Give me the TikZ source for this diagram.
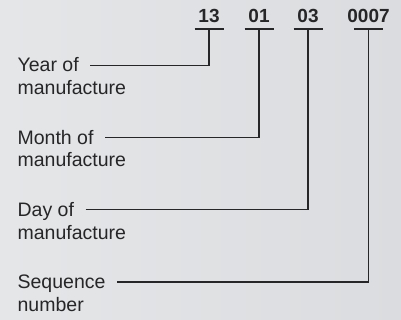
\documentclass[tikz,border=0pt]{standalone}
\usepackage{fontspec}
\setmainfont{Liberation Sans}
\definecolor{ink}{RGB}{38,38,40}
\definecolor{paperleft}{RGB}{229,230,232}
\definecolor{paperright}{RGB}{219,220,223}
\tikzstyle{every path}=[line width=1.3pt]
\tikzstyle{digits} = [anchor=south, inner xsep=0pt, inner ysep=5.7pt, text depth=0pt, text=ink, font=\fontsize{19}{19}\selectfont\bfseries]
\tikzstyle{field} = [anchor=base west, inner sep=0pt, text height=13.4pt, text depth=0pt, text=ink, font=\fontsize{19.5}{22.7}\selectfont]
\tikzstyle{leader} = [draw=ink, shorten <=11pt]

\begin{document}
\begin{tikzpicture}[x=1pt, y=1pt]
  \shade[left color=paperleft, right color=paperright] (0,0) rectangle (401,320);
  \useasboundingbox (0,0) rectangle (401,320);
  % the code as printed
  \node[digits] (year) at (209,291) {13};
  \node[digits] (month) at (259,291) {01};
  \node[digits] (day) at (308,291) {03};
  \node[digits] (seq) at (368.5,291) {0007};
  \draw[ink] ([xshift=-14.5pt]year.south) -- ([xshift=14.5pt]year.south);
  \draw[ink] ([xshift=-14.5pt]month.south) -- ([xshift=14.5pt]month.south);
  \draw[ink] ([xshift=-14.5pt]day.south) -- ([xshift=14.5pt]day.south);
  \draw[ink] ([xshift=-14.5pt]seq.south) -- ([xshift=14.5pt]seq.south);
  % what each group means
  \node[field] (yearA) at (17,248) {Year of};
  \node[field] (yearB) at (17,225.3) {manufacture};
  \node[field] (monthA) at (17,175.8) {Month of};
  \node[field] (monthB) at (17,153.1) {manufacture};
  \node[field] (dayA) at (17,103.6) {Day of};
  \node[field] (dayB) at (17,80.9) {manufacture};
  \node[field] (seqA) at (17,31.4) {Sequence};
  \node[field] (seqB) at (17,8.7) {number};
  \draw[leader] (yearA.east) -- (yearA.east -| year.south) -- (year.south);
  \draw[leader] (monthA.east) -- (monthA.east -| month.south) -- (month.south);
  \draw[leader] (dayA.east) -- (dayA.east -| day.south) -- (day.south);
  \draw[leader] (seqA.east) -- (seqA.east -| seq.south) -- (seq.south);
\end{tikzpicture}
\end{document}
